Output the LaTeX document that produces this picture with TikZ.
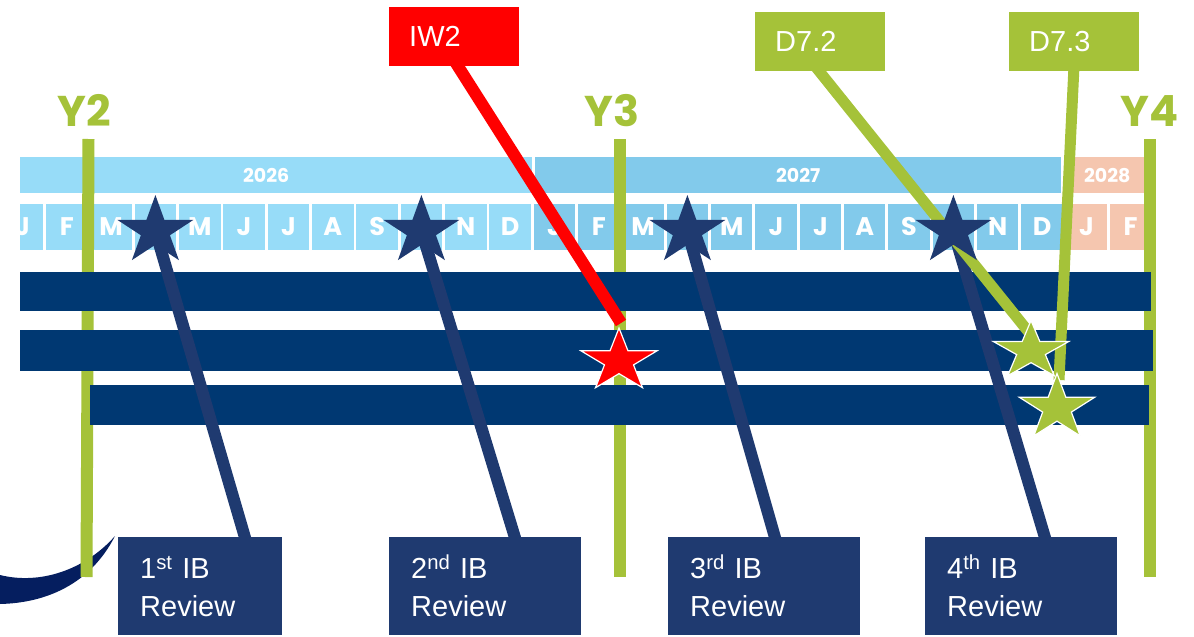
\documentclass[tikz,border=0pt]{standalone}
\usepackage{fontspec}
\setmainfont{Liberation Sans}
\newfontfamily\popf{Poppins}
\usetikzlibrary{calc}
\definecolor{c26}{RGB}{151,220,248}
\definecolor{c27}{RGB}{130,202,235}
\definecolor{c28}{RGB}{245,198,175}
\definecolor{grn}{RGB}{165,194,57}
\definecolor{barnavy}{RGB}{0,56,114}
\definecolor{boxnavy}{RGB}{31,58,112}
\definecolor{cres}{RGB}{5,30,95}
\newcommand\mystarshape[4]{\begin{scope}[shift={(#1)},xscale=#2,yscale=-#3]\path[#4] (90:1) -- (126:0.382) -- (162:1) -- (198:0.382) -- (234:1) -- (270:0.382) -- (306:1) -- (342:0.382) -- (18:1) -- (54:0.382) -- cycle;\end{scope}}
\tikzset{
  month/.style={minimum width=41.5, minimum height=46, inner sep=0, text=white, font=\popf\bfseries\fontsize{25.5}{25.5}\selectfont},
  yearbar/.style={anchor=north west, minimum height=36, inner sep=0, text=white, font=\popf\bfseries\fontsize{19}{19}\selectfont},
  ylab/.style={anchor=base, inner sep=0, text=grn, font=\popf\bfseries\fontsize{43}{43}\selectfont},
  yline/.style={draw=grn, line width=12},
  darkbar/.style={fill=barnavy},
  navyline/.style={draw=boxnavy, line width=12},
  redline/.style={draw=red, line width=12},
  grnline/.style={draw=grn, line width=11},
  revbox/.style={fill=boxnavy, text=white, anchor=north west, minimum height=98, inner xsep=22, inner ysep=0, align=left, font=\fontsize{29}{38}\selectfont},
  topbox/.style={anchor=north west, text=white, minimum height=59, inner xsep=20, inner ysep=0, align=left, text width=90, font=\fontsize{29}{34}\selectfont},
}
\begin{document}
\begin{tikzpicture}[x=1pt,y=-1pt]
\useasboundingbox (0,0) rectangle (1194,637);
% header
\begin{scope}
\clip (20,0) rectangle (1194,637);
\node[yearbar, fill=c26, minimum width=532] (y26) at (0,157) {2026};
\node[yearbar, fill=c27, minimum width=526] (y27) at (535,157) {2027};
\node[yearbar, fill=c28, minimum width=86] (y28) at (1064,157) {2028};
\foreach \m [count=\i from 0] in {J,F,M,A,M,J,J,A,S,O,N,D}
  \node[month, fill=c26] (m\i) at ({22.45+44.33*\i},227) {\m};
\foreach \m [count=\i from 12] in {J,F,M,A,M,J,J,A,S,O,N,D}
  \node[month, fill=c27] (m\i) at ({22.45+44.33*\i},227) {\m};
\foreach \m [count=\i from 24] in {J,F}
  \node[month, fill=c28] (m\i) at ({22.45+44.33*\i},227) {\m};
\end{scope}
% crescent
\fill[cres] (0,575) .. controls (40,585) and (85,570) .. (115,536) .. controls (90,585) and (45,603) .. (0,604) -- cycle;
% year lines and labels
\draw[yline] (88.5,139) -- (86.5,577);
\draw[yline] (620,139) -- (620,577);
\draw[yline] (1150,139) -- (1150,577);
\node[ylab] (Y2) at (84,126) {Y2};
\node[ylab] (Y3) at (612,126) {Y3};
\node[ylab] (Y4) at (1149.5,126) {Y4};
% dark bars
\fill[darkbar] (20,272) rectangle (1151,311);
\fill[darkbar] (20,330) rectangle (1153,371);
\fill[darkbar] (90,385) rectangle (1149,425);
% coordinates
\coordinate (s1) at (155.4,231);
\coordinate (s2) at (421.4,231);
\coordinate (s3) at (687.4,231);
\coordinate (s4) at (953.4,231);
\coordinate (b1t) at (246,541);
\coordinate (b2t) at (516,541);
\coordinate (b3t) at (776,541);
\coordinate (b4t) at (1046,541);
\coordinate (iwA) at (454,60);
\coordinate (rtip) at (621,323);
\coordinate (rs) at (619,361);
\coordinate (d2A) at (815,66);
\coordinate (g2tip) at (1031,335);
\coordinate (d3A) at (1074,66);
\coordinate (g3tip) at (1059,380);
\coordinate (ga) at (1031,351);
\coordinate (gb) at (1057,408);
% connectors
\draw[navyline] (s1) -- (b1t);
\draw[navyline] (s2) -- (b2t);
\draw[navyline] (s3) -- (b3t);
\draw[navyline] (s4) -- (b4t);
\draw[redline] (iwA) -- (rtip);
\draw[grnline] (d2A) -- (g2tip);
\draw[grnline] (d3A) -- (g3tip);
% stars
\mystarshape{s1}{40}{36}{fill=boxnavy}
\mystarshape{s2}{40}{36}{fill=boxnavy}
\mystarshape{s3}{40}{36}{fill=boxnavy}
\mystarshape{s4}{40}{36}{fill=boxnavy}
\mystarshape{rs}{40}{33}{fill=red, draw=white, line width=1.2}
\mystarshape{ga}{39.5}{30.5}{fill=grn, draw=white, line width=1.2}
\mystarshape{gb}{39.5}{34.5}{fill=grn, draw=white, line width=1.2}
% boxes
\node[topbox, fill=red] (iw2) at (389,7) {IW2};
\node[topbox, fill=grn] (d72) at (755,12) {D7.2};
\node[topbox, fill=grn] (d73) at (1009,12) {D7.3};
\node[revbox, text width=120] (r1) at (118,537) {1\textsuperscript{st} IB\\Review};
\node[revbox, text width=148] (r2) at (389,537) {2\textsuperscript{nd} IB\\Review};
\node[revbox, text width=148] (r3) at (668,537) {3\textsuperscript{rd} IB\\Review};
\node[revbox, text width=148] (r4) at (925,537) {4\textsuperscript{th} IB\\Review};
\end{tikzpicture}
\end{document}
